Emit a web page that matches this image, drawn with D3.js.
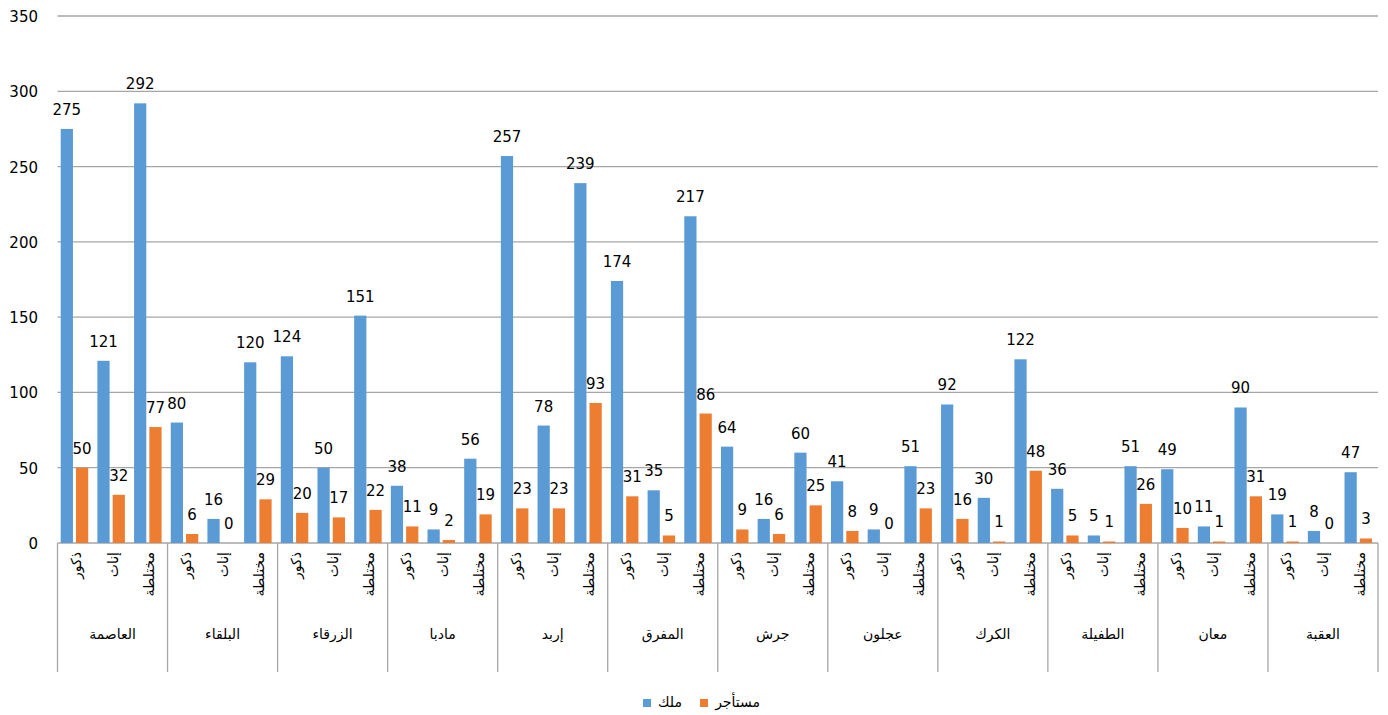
<!DOCTYPE html>
<html>
    <head>
        <meta charset="utf-8">
        <title></title>
        <style>
         body { margin: 0; background: #fff; }
         svg text { font-family: "DejaVu Sans", sans-serif; fill: #000; }
         .grid line { stroke: #a6a6a6; stroke-width: 1.3px; }
         .divs line { stroke: #a6a6a6; stroke-width: 1.3px; }
        </style>
    </head>
    <body>
        <svg width="1388" height="715"></svg>

        <script src="https://cdn.jsdelivr.net/npm/d3@7"></script>
        <script>

         var governorates = ['العاصمة', 'البلقاء', 'الزرقاء', 'مادبا', 'إربد', 'المفرق', 'جرش', 'عجلون', 'الكرك', 'الطفيلة', 'معان', 'العقبة'];
         var subcats = ['ذكور', 'إناث', 'مختلطة'];
         var seriesNames = ['ملك', 'مستأجر'];
         var seriesColors = ['#5b9bd5', '#ed7d31'];

         // values per governorate, in subcategory order
         var owned = [
             [275, 121, 292], [80, 16, 120], [124, 50, 151], [38, 9, 56],
             [257, 78, 239], [174, 35, 217], [64, 16, 60], [41, 9, 51],
             [92, 30, 122], [36, 5, 51], [49, 11, 90], [19, 8, 47]
         ];
         var rented = [
             [50, 32, 77], [6, 0, 29], [20, 17, 22], [11, 2, 19],
             [23, 23, 93], [31, 5, 86], [9, 6, 25], [8, 0, 23],
             [16, 1, 48], [5, 1, 26], [10, 1, 31], [1, 0, 3]
         ];
         var yTicks = [0, 50, 100, 150, 200, 250, 300, 350];

         (function() {
         var svg = d3.select('svg');
         var plotLeft = 57.5, plotRight = 1378, plotTop = 16, plotBottom = 543;

         var y = d3.scaleLinear().domain([0, 350]).range([plotBottom, plotTop]);
         var x0 = d3.scaleBand().domain(governorates).range([plotLeft, plotRight]).padding(0);
         var x1 = d3.scaleBand().domain(subcats).range([0, x0.bandwidth()]).padding(0);
         var x2 = d3.scaleBand().domain(seriesNames).range([0, x1.bandwidth()])
                    .paddingInner(0.2).paddingOuter(0.3).align(0.35);

         // gridlines
         svg.append('g')
            .attr('class', 'grid')
            .selectAll('line')
            .data(yTicks)
            .enter()
            .append('line')
            .attr('x1', plotLeft).attr('x2', plotRight)
            .attr('y1', function(d) { return y(d); })
            .attr('y2', function(d) { return y(d); });

         // y axis labels
         svg.append('g')
            .selectAll('text')
            .data(yTicks)
            .enter()
            .append('text')
            .attr('x', 38)
            .attr('y', function(d) { return y(d) + 6; })
            .attr('text-anchor', 'end')
            .style('font-size', '15px')
            .text(function(d) { return d; });

         // flatten data
         var rows = [];
         governorates.forEach(function(g, gi) {
             subcats.forEach(function(s, si) {
                 rows.push({ g: g, s: s, series: 0, v: owned[gi][si] });
                 rows.push({ g: g, s: s, series: 1, v: rented[gi][si] });
             });
         });
         function barX(d) { return x0(d.g) + x1(d.s) + x2(seriesNames[d.series]); }

         svg.append('g')
            .selectAll('rect')
            .data(rows)
            .enter()
            .append('rect')
            .attr('x', barX)
            .attr('width', x2.bandwidth())
            .attr('y', function(d) { return y(d.v); })
            .attr('height', function(d) { return plotBottom - y(d.v); })
            .attr('fill', function(d) { return seriesColors[d.series]; });

         svg.append('g')
            .selectAll('text')
            .data(rows)
            .enter()
            .append('text')
            .attr('x', function(d) { return barX(d) + x2.bandwidth() / 2; })
            .attr('y', function(d) { return y(d.v) - 14; })
            .attr('text-anchor', 'middle')
            .style('font-size', '15px')
            .text(function(d) { return d.v; });

         // category dividers
         var divs = governorates.map(function(g) { return x0(g); }).concat([plotRight]);
         svg.append('g')
            .attr('class', 'divs')
            .selectAll('line')
            .data(divs)
            .enter()
            .append('line')
            .attr('x1', function(d) { return d; }).attr('x2', function(d) { return d; })
            .attr('y1', plotBottom).attr('y2', 672);

         // subcategory labels (rotated)
         var subRows = [];
         governorates.forEach(function(g) {
             subcats.forEach(function(s) { subRows.push({ g: g, s: s }); });
         });
         svg.append('g')
            .selectAll('text')
            .data(subRows)
            .enter()
            .append('text')
            .attr('transform', function(d) {
                return 'translate(' + (x0(d.g) + x1(d.s) + x1.bandwidth() / 2 + 5) + ',552) rotate(-90)';
            })
            .attr('text-anchor', 'end')
            .style('font-size', '14px')
            .text(function(d) { return d.s; });

         // governorate labels
         svg.append('g')
            .selectAll('text')
            .data(governorates)
            .enter()
            .append('text')
            .attr('x', function(d) { return x0(d) + x0.bandwidth() / 2; })
            .attr('y', 639)
            .attr('text-anchor', 'middle')
            .style('font-size', '14px')
            .text(function(d) { return d; });

         // legend
         var legend = [
             { name: seriesNames[0], color: seriesColors[0], sq: 643, tx: 682 },
             { name: seriesNames[1], color: seriesColors[1], sq: 700, tx: 760 }
         ];
         var lg = svg.append('g');
         lg.selectAll('rect')
           .data(legend)
           .enter()
           .append('rect')
           .attr('x', function(d) { return d.sq; })
           .attr('y', 699)
           .attr('width', 8).attr('height', 8)
           .attr('fill', function(d) { return d.color; });
         lg.selectAll('text')
           .data(legend)
           .enter()
           .append('text')
           .attr('x', function(d) { return d.tx; })
           .attr('y', 707)
           .attr('text-anchor', 'end')
           .style('font-size', '14px')
           .text(function(d) { return d.name; });
         })();

        </script>
    </body>
</html>
